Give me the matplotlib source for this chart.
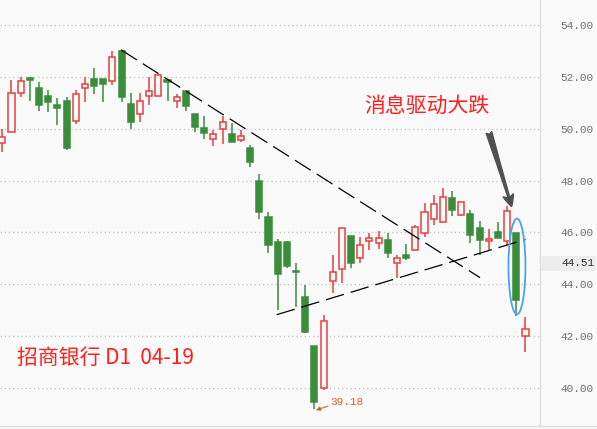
import matplotlib
matplotlib.use('Agg')
from matplotlib import pyplot as plt
from matplotlib.patches import Ellipse, Rectangle
from matplotlib.lines import Line2D
import matplotlib.transforms as mtransforms

# 日K数据 (high, body top, body bottom, low), 'R' = up (hollow), 'G' = down
colors = ['R', 'R', 'R', 'G', 'G', 'G', 'G', 'G', 'R', 'R',
          'G', 'G', 'R', 'G', 'G', 'R', 'R', 'R', 'G', 'R',
          'G', 'G', 'G', 'R', 'R', 'G', 'R', 'G', 'G', 'G',
          'G', 'G', 'G', 'G', 'G', 'R', 'R', 'R', 'G', 'R',
          'R', 'R', 'G', 'R', 'G', 'R', 'R', 'R', 'R', 'G',
          'R', 'G', 'G', 'R', 'G', 'R', 'G', 'R']
highs = [50.00, 51.88, 52.00, 52.00, 51.80, 51.50, 51.19, 51.22, 51.50, 51.99,
         52.33, 51.92, 53.00, 53.00, 51.38, 51.38, 52.00, 52.07, 51.88, 51.33,
         51.45, 50.58, 50.50, 49.96, 50.50, 50.22, 49.96, 49.38, 48.27, 46.77,
         45.73, 45.69, 44.81, 43.96, 41.62, 42.81, 45.15, 46.18, 45.88, 45.83,
         45.96, 46.07, 45.96, 45.12, 45.54, 46.30, 47.12, 47.46, 47.72, 47.60,
         47.17, 46.88, 46.46, 46.12, 46.42, 47.01, 45.99, 42.74]
body_top = [49.69, 51.37, 51.83, 51.97, 51.58, 51.26, 50.91, 51.08, 51.33, 51.72,
            51.91, 51.92, 52.76, 53.00, 50.96, 51.08, 51.46, 52.07, 51.86, 51.22,
            51.45, 50.58, 50.04, 49.80, 50.26, 49.80, 49.72, 49.27, 48.00, 46.58,
            45.62, 45.62, 44.52, 43.50, 41.62, 42.57, 44.49, 46.18, 45.88, 45.53,
            45.77, 45.77, 45.72, 45.03, 45.15, 46.20, 46.80, 47.10, 47.36, 47.33,
            47.17, 46.73, 46.19, 45.76, 46.01, 46.83, 45.99, 42.29]
body_bot = [49.46, 49.87, 51.37, 51.86, 50.93, 51.01, 50.78, 49.24, 50.30, 51.57,
            51.63, 51.74, 51.83, 51.24, 50.24, 50.57, 51.26, 51.26, 51.80, 51.07,
            50.86, 50.05, 49.82, 49.60, 49.99, 49.47, 49.55, 48.70, 46.78, 45.51,
            44.40, 44.69, 44.48, 42.17, 39.47, 40.00, 44.14, 44.60, 44.82, 45.03,
            45.67, 45.60, 45.22, 44.83, 45.01, 45.33, 45.99, 46.50, 46.41, 46.86,
            46.68, 45.90, 45.70, 45.67, 45.77, 45.67, 43.40, 41.99]
lows = [49.12, 49.87, 51.24, 51.05, 50.70, 50.63, 50.13, 49.17, 50.17, 51.01,
        51.32, 51.01, 51.67, 51.01, 49.99, 50.24, 50.93, 51.26, 51.05, 50.78,
        50.67, 49.86, 49.59, 49.32, 49.40, 49.47, 49.47, 48.51, 46.53, 45.19,
        43.01, 44.63, 43.13, 42.14, 39.18, 39.93, 43.67, 44.07, 44.63, 44.83,
        45.32, 45.37, 45.01, 44.26, 44.93, 45.33, 45.82, 46.30, 46.41, 46.63,
        46.65, 45.59, 45.13, 45.32, 45.77, 45.51, 42.78, 41.40]

# 趋势线 (candle index, price)
down_line_x = [12.93, 52.04]
down_line_y = [53.04, 44.26]
up_line_x = [29.89, 57.0]
up_line_y = [42.83, 45.73]

y_ticks = [40, 42, 44, 46, 48, 50, 52, 54]
last_price = '44.51'
low_label = '39.18'

RED = '#e8403f'
GREEN = '#3a8d3a'
BG = '#fafafa'

fig = plt.figure(figsize=(5.97, 4.29), dpi=100, facecolor=BG)
ax = fig.add_axes([0, 3 / 429, 540 / 597, 426 / 429], facecolor=BG)

for i in range(len(colors)):
    c = RED if colors[i] == 'R' else GREEN
    face = BG if colors[i] == 'R' else GREEN
    ax.vlines(i, lows[i], highs[i], color=c, lw=1.1, zorder=2)
    h = max(body_top[i] - body_bot[i], 0.03)
    ax.bar(i, h, bottom=body_bot[i], width=0.66, facecolor=face,
           edgecolor=c, linewidth=1.1, zorder=3)

# 压力线 / 支撑线
ax.plot(down_line_x, down_line_y, color='black', lw=0.9, dashes=(15, 5.6), zorder=4)
ax.plot(up_line_x, up_line_y, color='black', lw=0.9, dashes=(15, 5.6), zorder=4)

# 大跌那根K线圈出来
ax.add_patch(Ellipse((56.07, 44.69), 1.85, 3.69, fill=False,
                     edgecolor='#4aa3f0', lw=1.3, zorder=5))

ax.annotate('', xy=(55.49, 47.0), xytext=(53.02, 49.85),
            arrowprops=dict(arrowstyle='fancy,head_length=0.6,head_width=0.55,tail_width=0.3',
                            color='#505050', mutation_scale=14, shrinkA=0, shrinkB=0),
            zorder=6)

ax.text(0.675, 0.751, '消息驱动大跌', transform=ax.transAxes, color='#ff1f1f',
        fontsize=15, ha='left', va='center',
        family=['Noto Sans CJK SC', 'DejaVu Sans'])
ax.text(0.031, 0.160, '招商银行 D1  04-19', transform=ax.transAxes, color='#ff1f1f',
        fontsize=15, ha='left', va='center',
        family=['Noto Sans CJK SC', 'DejaVu Sans'])

ax.annotate(low_label, xy=(34.17, 39.15), xytext=(35.77, 39.46),
            color='#e0601c', fontsize=8, family='Liberation Mono',
            ha='left', va='center',
            arrowprops=dict(arrowstyle='-|>', color='#e0601c', lw=0.8,
                            mutation_scale=6, shrinkA=0, shrinkB=0,
                            relpos=(0, 0.2)))

ax.set_xlim(-0.25, 58.58)
ax.set_ylim(38.54, 54.96)
ax.set_xticks([])
ax.set_yticks(y_ticks)
ax.set_yticklabels(['%.2f' % v for v in y_ticks])
ax.yaxis.tick_right()
ax.tick_params(axis='y', length=0, pad=15, labelsize=8, labelcolor='#707070')
for lab in ax.get_yticklabels():
    lab.set_family('Liberation Mono')
ax.grid(axis='y', color='#c8c8c8', lw=1, dashes=(1, 2))
ax.set_axisbelow(True)

for s in ['top', 'left', 'bottom']:
    ax.spines[s].set_visible(False)
ax.spines['right'].set_color('#dedede')
ax.spines['right'].set_linewidth(1)

fig.add_artist(Line2D([0, 1], [3 / 429, 3 / 429], color='#dedede', lw=1,
                      transform=fig.transFigure))

# 最新价标签
fig.add_artist(Rectangle((541 / 597, (429 - 271) / 429), 55 / 597, 15 / 429,
                         transform=fig.transFigure, facecolor='#ededed',
                         edgecolor='none'))
fig.text(561.5 / 597, (429 - 263.5) / 429, last_price, color='#333333',
         fontsize=8, family='Liberation Mono', ha='left', va='center')

fig.savefig('out.png', dpi=100, facecolor=BG)
